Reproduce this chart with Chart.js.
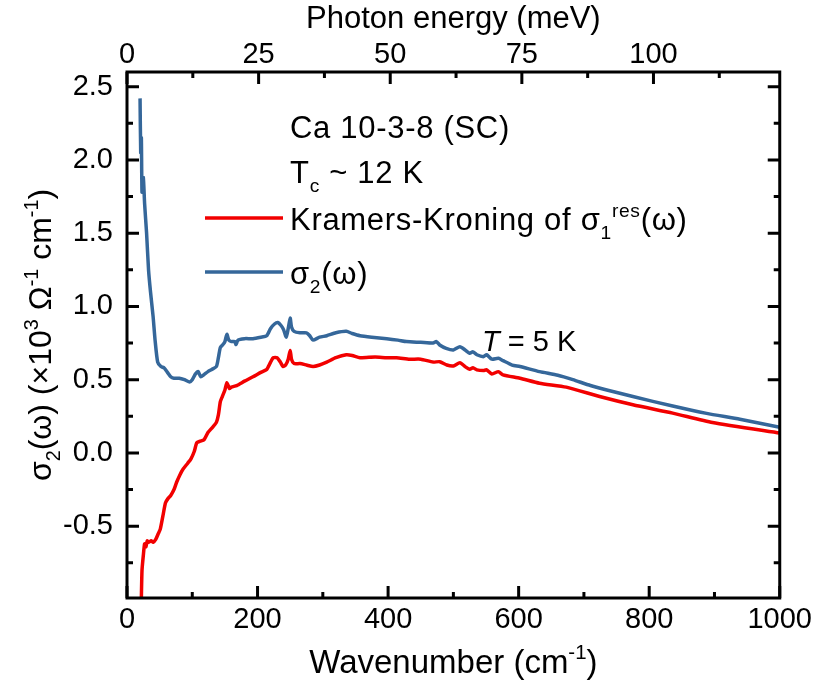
<!DOCTYPE html>
<html><head><meta charset="utf-8">
<script src="https://cdn.jsdelivr.net/npm/chart.js@4.4.0/dist/chart.umd.min.js"></script>
<style>html,body{margin:0;padding:0;background:#fff}#wrap{width:817px;height:688px}</style>
</head><body><div id="wrap"><canvas id="c" width="817" height="688"></canvas></div>
<script>
// ---- data ----
const wnBlue = [20,21,22,23,25,27,30,33,36,40,43,47,52,57,62,67,72,80,88,96,100,105,109,113,118,124,130,137,140,143,147,150,153,156,160,165,167,170,180,193,205,214,220,226,231,236,240,244,247,250,252,256,265,275,280,285,295,306,320,336,345,357,375,398,415,428,450,469,474,479,489,500,510,518,525,530,536,546,551,559,569,576,590,602,632,660,683,710,735,775,836,888,939,1000];
const sigma2 = [2.42,2.05,2.15,1.78,1.88,1.70,1.50,1.25,1.10,0.93,0.77,0.62,0.59,0.58,0.55,0.52,0.51,0.51,0.50,0.485,0.50,0.54,0.555,0.52,0.535,0.555,0.57,0.59,0.65,0.72,0.74,0.76,0.81,0.77,0.76,0.76,0.74,0.77,0.78,0.78,0.79,0.80,0.85,0.88,0.89,0.87,0.84,0.79,0.85,0.92,0.86,0.83,0.82,0.82,0.80,0.77,0.79,0.80,0.82,0.83,0.815,0.80,0.79,0.78,0.77,0.76,0.755,0.75,0.76,0.737,0.714,0.703,0.725,0.703,0.68,0.69,0.67,0.657,0.67,0.64,0.646,0.63,0.60,0.59,0.555,0.53,0.50,0.46,0.43,0.385,0.32,0.27,0.23,0.175];
const wnRed = [20,22,23,25,27,29,31,33,37,40,44,48,51,55,59,63,67,72,76,81,86,93,98,103,107,112,118,124,130,137,140,143,146,150,153,157,160,168,180,193,205,214,220,224,230,235,239,243,247,250,252,256,265,275,285,295,306,320,336,345,357,380,398,413,433,450,469,479,490,500,510,518,525,530,536,546,551,559,569,576,602,632,673,724,775,836,897,1000];
const sigmaKK = [-1.4,-0.99,-0.80,-0.70,-0.62,-0.64,-0.60,-0.61,-0.60,-0.61,-0.59,-0.55,-0.52,-0.43,-0.34,-0.31,-0.29,-0.25,-0.20,-0.15,-0.11,-0.07,-0.04,0.01,0.07,0.08,0.09,0.14,0.17,0.21,0.26,0.35,0.385,0.43,0.48,0.44,0.45,0.46,0.49,0.52,0.55,0.57,0.62,0.65,0.65,0.62,0.59,0.60,0.64,0.70,0.64,0.61,0.61,0.60,0.59,0.60,0.62,0.65,0.67,0.665,0.65,0.655,0.65,0.65,0.64,0.64,0.62,0.623,0.60,0.594,0.616,0.589,0.571,0.582,0.567,0.562,0.567,0.539,0.555,0.533,0.51,0.476,0.449,0.385,0.329,0.272,0.208,0.136];
const xTicks = [0,200,400,600,800,1000];
const xMinor = [100,300,500,700,900];
const yTicks = [-0.5,0,0.5,1.0,1.5,2.0,2.5];
const yMinor = [-0.75,-0.25,0.25,0.75,1.25,1.75,2.25];
const topTicks = [0,25,50,75,100];
const topMinor = [12.5,37.5,62.5,87.5,112.5];
const CM_PER_MEV = 8.06554;
const X_MIN = 0, X_MAX = 1000, Y_MIN = -0.99, Y_MAX = 2.6;

const FONT = '"Liberation Sans", Arial, sans-serif';
const RED = '#f20000', BLUE = '#35679a';

function pts(xs, ys){ return xs.map((x,i)=>({x:x, y:ys[i]})); }

function richWidth(ctx, parts, size){
  let w=0;
  for(const [t,m] of parts){
    const fs = (m==='sub'||m==='sup') ? size*0.62 : size;
    ctx.font = (m==='i'?'italic ':'') + fs + 'px ' + FONT;
    w += ctx.measureText(t).width;
  }
  return w;
}
function rich(ctx, parts, x, y, size){
  let cx=x;
  for(const [t,m] of parts){
    let fs=size, dy=0;
    if(m==='sub'){fs=size*0.62; dy=size*0.28;}
    if(m==='sup'){fs=size*0.62; dy=-size*0.42;}
    ctx.font = (m==='i'?'italic ':'') + fs + 'px ' + FONT;
    ctx.fillText(t, cx, y+dy);
    cx += ctx.measureText(t).width;
  }
  return cx-x;
}

const decor = {
  id:'decor',
  afterDatasetsDraw(chart){
    const ctx = chart.ctx, a = chart.chartArea;
    const sx = chart.scales.x, sy = chart.scales.y, st = chart.scales.xTop;
    ctx.save();
    ctx.strokeStyle='#000'; ctx.lineWidth=3; ctx.lineCap='butt';
    ctx.strokeRect(a.left, a.top, a.right-a.left, a.bottom-a.top);
    const MAJ=12, MIN=6;
    ctx.beginPath();
    const vx=(v,len)=>{const p=sx.getPixelForValue(v); ctx.moveTo(p,a.bottom); ctx.lineTo(p,a.bottom-len);};
    xTicks.forEach(v=>vx(v,MAJ)); xMinor.forEach(v=>vx(v,MIN));
    const tx=(v,len)=>{const p=st.getPixelForValue(v); ctx.moveTo(p,a.top); ctx.lineTo(p,a.top+len);};
    topTicks.forEach(v=>tx(v,MAJ)); topMinor.forEach(v=>tx(v,MIN));
    const vy=(v,len)=>{const p=sy.getPixelForValue(v); ctx.moveTo(a.left,p); ctx.lineTo(a.left+len,p); ctx.moveTo(a.right,p); ctx.lineTo(a.right-len,p);};
    yTicks.forEach(v=>vy(v,MAJ)); yMinor.forEach(v=>vy(v,MIN));
    ctx.stroke();

    ctx.fillStyle='#000'; ctx.textBaseline='alphabetic'; ctx.textAlign='left';
    // axis titles
    const bt=[['Wavenumber (cm','n'],['-1','sup'],[')','n']];
    let w=richWidth(ctx,bt,33); rich(ctx,bt,(a.left+a.right)/2-w/2,673,33);
    const tt=[['Photon energy (meV)','n']];
    w=richWidth(ctx,tt,31); rich(ctx,tt,(a.left+a.right)/2-w/2,28,31);
    const yt=[['σ','n'],['2','sub'],['(ω) (×10','n'],['3','sup'],[' Ω','n'],['-1','sup'],[' cm','n'],['-1','sup'],[')','n']];
    ctx.save();
    ctx.translate(51,(a.top+a.bottom)/2); ctx.rotate(-Math.PI/2);
    w=richWidth(ctx,yt,32); rich(ctx,yt,-w/2,0,32);
    ctx.restore();

    // annotations / legend
    const AS=31;
    ctx.letterSpacing='0.7px';
    rich(ctx,[['Ca 10-3-8 (SC)','n']],290,138,AS);
    rich(ctx,[['T','n'],['c','sub'],[' ~ 12 K','n']],290,183,AS);
    rich(ctx,[['Kramers-Kroning of σ','n'],['1','sub'],['res','sup'],['(ω)','n']],290,230,AS);
    rich(ctx,[['σ','n'],['2','sub'],['(ω)','n']],290,284,AS);
    ctx.letterSpacing='0px';
    rich(ctx,[['T','i'],[' = 5 K','n']],482,351,29);
    ctx.lineWidth=3.5;
    ctx.strokeStyle=RED; ctx.beginPath(); ctx.moveTo(205,218); ctx.lineTo(283,218); ctx.stroke();
    ctx.strokeStyle=BLUE; ctx.beginPath(); ctx.moveTo(205,272); ctx.lineTo(283,272); ctx.stroke();
    ctx.restore();
  }
};

const tickFont = {family: FONT, size: 29};
new Chart(document.getElementById('c'), {
  type:'line',
  data:{datasets:[
    {label:'Kramers-Kroning of σ1res(ω)', data:pts(wnRed,sigmaKK), borderColor:RED, borderWidth:3.5, pointRadius:0, tension:0.2, fill:false},
    {label:'σ2(ω)', data:pts(wnBlue,sigma2), borderColor:BLUE, borderWidth:3.5, pointRadius:0, tension:0.2, fill:false}
  ]},
  options:{
    responsive:false, animation:false, devicePixelRatio:1,
    layout:{padding:{left:0,right:37,top:0,bottom:0}},
    plugins:{legend:{display:false}, tooltip:{enabled:false}},
    scales:{
      x:{type:'linear', position:'bottom', min:X_MIN, max:X_MAX,
        afterBuildTicks:s=>{s.ticks=xTicks.map(v=>({value:v}));},
        afterFit:s=>{s.height=90;},
        grid:{display:false, drawTicks:false}, border:{display:false},
        ticks:{font:tickFont, color:'#000', padding:5, maxRotation:0, autoSkip:false, callback:v=>String(v)}},
      xTop:{type:'linear', position:'top', min:X_MIN/CM_PER_MEV, max:X_MAX/CM_PER_MEV,
        afterBuildTicks:s=>{s.ticks=topTicks.map(v=>({value:v}));},
        afterFit:s=>{s.height=72;},
        grid:{display:false, drawTicks:false}, border:{display:false},
        ticks:{font:tickFont, color:'#000', padding:0, maxRotation:0, autoSkip:false, callback:v=>String(v)}},
      y:{type:'linear', position:'left', min:Y_MIN, max:Y_MAX,
        afterBuildTicks:s=>{s.ticks=yTicks.map(v=>({value:v}));},
        afterFit:s=>{s.width=127;},
        grid:{display:false, drawTicks:false}, border:{display:false},
        ticks:{font:tickFont, color:'#000', padding:14, autoSkip:false, callback:v=>Number(v).toFixed(1)}}
    }
  },
  plugins:[decor]
});
</script></body></html>
